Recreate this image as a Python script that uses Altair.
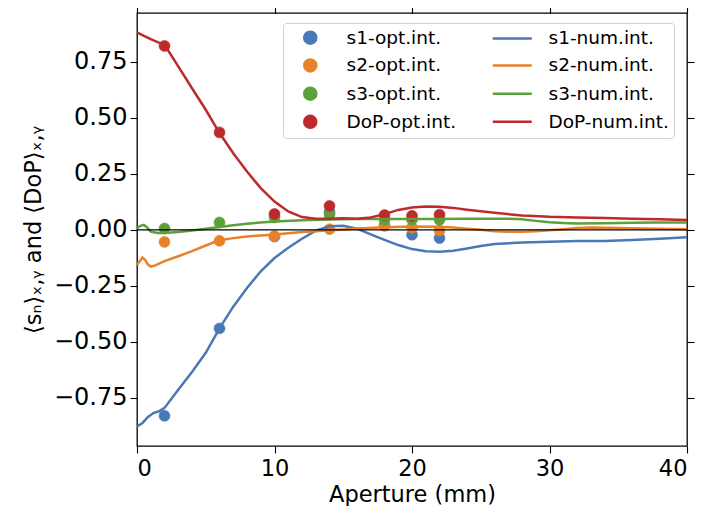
import altair as alt
import pandas as pd

FONT = "DejaVu Sans"

colors = ["#4a78b5", "#e8822a", "#5ca03a", "#bd2a2c"]
labels_opt = ["s1-opt.int.", "s2-opt.int.", "s3-opt.int.", "DoP-opt.int."]
labels_num = ["s1-num.int.", "s2-num.int.", "s3-num.int.", "DoP-num.int."]

# optical-integration points
pt_x = [2, 6, 10, 14, 18, 20, 22]
s1_opt = [-0.83, -0.44, -0.03, 0.08, 0.02, -0.022, -0.037]
s2_opt = [-0.054, -0.049, -0.028, 0.003, 0.018, 0.01, -0.003]
s3_opt = [0.006, 0.033, 0.055, 0.068, 0.045, 0.045, 0.045]
dop_opt = [0.821, 0.435, 0.071, 0.107, 0.066, 0.0625, 0.068]

# numerical-integration curves
s1_x = [0, 0.4, 0.8, 1.2, 1.6, 2, 3, 4, 5, 6, 7, 8, 9, 10, 11, 12, 13, 14, 15, 16,
        17, 18, 19, 20, 21, 22, 23, 24, 25, 26, 28, 30, 32, 34, 36, 38, 40]
s1_num = [-0.878, -0.862, -0.835, -0.818, -0.81, -0.795, -0.714, -0.635, -0.549, -0.44,
          -0.343, -0.26, -0.185, -0.126, -0.08, -0.04, -0.004, 0.016, 0.018, 0.005,
          -0.02, -0.045, -0.068, -0.086, -0.096, -0.098, -0.093, -0.083, -0.072, -0.063,
          -0.057, -0.053, -0.05, -0.05, -0.045, -0.04, -0.033]

s2_x = [0, 0.2, 0.4, 0.6, 0.8, 1.0, 1.3, 2, 3, 4, 5, 6, 7, 8, 9, 10, 11, 12, 13, 14,
        15, 16, 18, 20, 22, 23, 24, 25, 26, 27, 28, 29, 30, 31, 32, 33, 34, 36, 38, 40]
s2_num = [-0.156, -0.14, -0.124, -0.135, -0.155, -0.164, -0.16, -0.14, -0.118, -0.095,
          -0.07, -0.046, -0.037, -0.03, -0.025, -0.021, -0.015, -0.01, -0.006, -0.002,
          0.002, 0.006, 0.012, 0.015, 0.014, 0.01, 0.005, 0.0, -0.006, -0.009,
          -0.009, -0.006, -0.002, 0.003, 0.008, 0.01, 0.009, 0.007, 0.005, 0.003]

s3_x = [0, 0.25, 0.5, 0.75, 1, 1.5, 2, 3, 4, 5, 6, 7, 8, 9, 10, 12, 14, 16, 18, 20,
        22, 24, 26, 27, 28, 29, 30, 31, 32, 34, 36, 38, 40]
s3_num = [0.007, 0.018, 0.022, 0.01, -0.008, -0.014, -0.014, -0.01, -0.003, 0.005,
          0.013, 0.02, 0.027, 0.033, 0.037, 0.043, 0.046, 0.048, 0.048, 0.048,
          0.048, 0.049, 0.05, 0.05, 0.047, 0.04, 0.034, 0.03, 0.028, 0.029,
          0.032, 0.033, 0.033]

dop_x = [0, 0.5, 1, 1.5, 2, 3, 4, 5, 6, 7, 8, 9, 10, 11, 12, 13, 14, 15, 16, 17, 18,
         19, 20, 21, 22, 23, 24, 26, 28, 30, 32, 34, 36, 38, 40]
dop_num = [0.881, 0.866, 0.851, 0.838, 0.826, 0.73, 0.632, 0.536, 0.432, 0.342, 0.26,
           0.186, 0.126, 0.082, 0.057, 0.05, 0.05, 0.052, 0.05, 0.055, 0.07,
           0.089, 0.1, 0.104, 0.103, 0.098, 0.09, 0.076, 0.064, 0.058, 0.055,
           0.053, 0.05, 0.047, 0.044]

x_ticks = [0, 10, 20, 30, 40]
y_ticks = [-0.75, -0.5, -0.25, 0.0, 0.25, 0.5, 0.75]
x_dom = [0, 40]
y_dom = [-0.965, 0.968]

# tables
pt_rows = []
for lab, vals in zip(labels_opt, [s1_opt, s2_opt, s3_opt, dop_opt]):
    for xv, yv in zip(pt_x, vals):
        pt_rows.append({"x": xv, "y": yv, "label": lab})
pts = pd.DataFrame(pt_rows)

ln_rows = []
for lab, xs_, ys_ in zip(labels_num, [s1_x, s2_x, s3_x, dop_x], [s1_num, s2_num, s3_num, dop_num]):
    for i, (xv, yv) in enumerate(zip(xs_, ys_)):
        ln_rows.append({"x": xv, "y": yv, "label": lab, "order": i})
lns = pd.DataFrame(ln_rows)

# legend entries are laid out column by column: markers first, then lines
LINE_SYM = "M-3.25,0H3.25"
dom = labels_opt + labels_num
col_range = colors + colors
shape_range = ["circle"] * 4 + [LINE_SYM] * 4

fill_scale = alt.Scale(domain=dom, range=col_range)
stroke_scale = alt.Scale(domain=dom, range=col_range)
shape_scale = alt.Scale(domain=dom, range=shape_range)

xs = alt.Scale(domain=x_dom, nice=False, zero=False)
ys = alt.Scale(domain=y_dom, nice=False, zero=False)

axis_common = dict(
    labelFont=FONT, titleFont=FONT, labelColor="black", titleColor="black",
    tickColor="black", tickWidth=1.1, tickSize=7, domain=False, grid=False,
    titleFontWeight="normal",
)

x_axis = alt.Axis(values=x_ticks, labelFontSize=22.5, titleFontSize=22.5,
                  title="Aperture (mm)", labelPadding=4, titlePadding=4,
                  format="d", **axis_common)
y_axis = alt.Axis(values=y_ticks, labelFontSize=24, titleFontSize=22.5,
                  title="⟨sₙ⟩ₓ,ᵧ and ⟨DoP⟩ₓ,ᵧ", format=".2f", labelPadding=3,
                  titlePadding=8, **axis_common)
x_top = alt.Axis(values=x_ticks, orient="top", labels=False, title=None, **axis_common)
y_right = alt.Axis(values=y_ticks, orient="right", labels=False, title=None, **axis_common)

legend = alt.Legend(
    title=None, orient="none", legendX=146, legendY=10, columns=2,
    labelFont=FONT, labelFontSize=18.5, labelColor="black", labelOffset=27,
    symbolSize=144, symbolStrokeWidth=2.5, rowPadding=5.2, columnPadding=30,
    padding=5, strokeColor="#d0d0d0", fillColor="rgba(255,255,255,0.8)",
    cornerRadius=3, symbolOffset=13, symbolOpacity=1,
)

points = alt.Chart(pts).mark_point(filled=True, size=120, opacity=1, strokeWidth=0.6).encode(
    x=alt.X("x:Q", scale=xs, axis=x_axis),
    y=alt.Y("y:Q", scale=ys, axis=y_axis),
    fill=alt.Fill("label:N", scale=fill_scale, legend=legend),
    stroke=alt.Stroke("label:N", scale=stroke_scale, legend=legend),
    shape=alt.Shape("label:N", scale=shape_scale, legend=legend),
)

lines = alt.Chart(lns).mark_line(strokeWidth=2.5).encode(
    x=alt.X("x:Q", scale=xs, axis=None),
    y=alt.Y("y:Q", scale=ys, axis=None),
    stroke=alt.Stroke("label:N", scale=stroke_scale, legend=legend),
    detail="label:N",
    order="order:Q",
)

zero_rule = alt.Chart(pd.DataFrame({"y": [0.0]})).mark_rule(color="black", strokeWidth=1.3).encode(
    y=alt.Y("y:Q", scale=ys, axis=None),
)

mirror = alt.Chart(pts).mark_point(opacity=0).encode(
    x=alt.X("x:Q", scale=xs, axis=x_top),
    y=alt.Y("y:Q", scale=ys, axis=y_right),
)

chart = alt.layer(points, lines, zero_rule, mirror).resolve_axis(
    x="independent", y="independent"
).properties(
    width=550, height=433,
    autosize=alt.AutoSizeParams(type="none"),
    padding={"left": 129, "top": 5, "right": 9, "bottom": 60},
).configure_view(
    stroke="black", strokeWidth=1.3
)

chart.save("out.html", embed_options={"renderer": "svg", "actions": False})
